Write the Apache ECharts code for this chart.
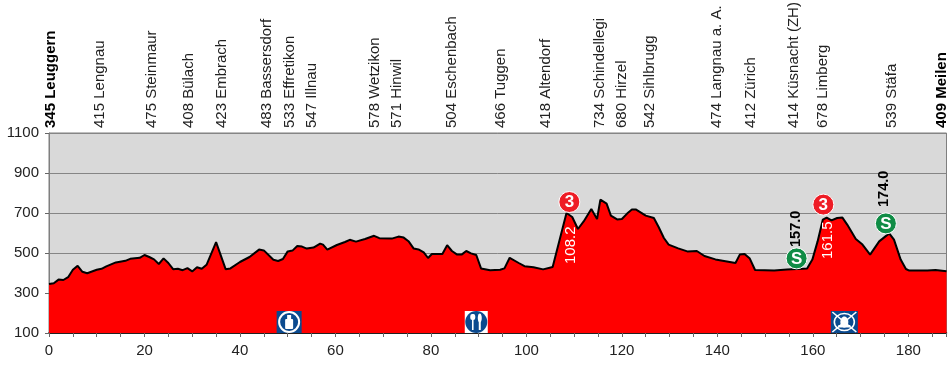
<!DOCTYPE html>
<html><head><meta charset="utf-8">
<style>html,body{margin:0;padding:0;background:#fff}#c{width:950px;height:366px}</style>
<script src="https://cdn.jsdelivr.net/npm/echarts@6/dist/echarts.min.js"></script>
</head><body><div id="c"></div>
<script>
const profileKm = [0,1,2,3,4,5,6,7,8,10,11,12,14,16,17,19,20,21,22,23,24,25,26,27,28,29,30,31,32,33,35,37,38,40,42,44,45,47,48,49,50,51,52,53,54,55.4,56.8,57.4,58.3,60.3,62,63,64.3,66.2,68.1,69.2,71.8,73.2,74.3,75.3,76.4,77.4,78.5,79.4,80.2,82.4,83.4,84.4,85.5,86.5,87.4,88.4,89.5,90.5,92.4,94.5,95.4,96.5,98.4,99.6,101.5,103.5,105.5,108.4,109.6,110.8,112,113.6,114.8,115.5,116.8,117.7,119,120,121.1,122.1,122.9,125,126.7,127.7,128.8,129.8,131.8,133.7,135.7,137.3,139.6,143.8,144.7,145.7,146.8,147.9,151.9,154.6,158.8,159.9,161,162.1,162.9,163.9,165.1,166.2,167.2,169,170.4,172,173.9,176,177,178.4,179.5,180.2,184,185.7,188];
const profileAlt = [345,349,367,365,379,416,436,406,399,416,421,433,453,461,471,476,490,480,468,445,473,450,419,421,414,424,408,429,421,441,554,419,423,455,480,517,513,466,460,470,508,512,535,532,522,527,547,542,517,540,555,566,557,570,586,574,572,582,577,559,522,518,503,475,495,495,539,510,492,493,510,498,490,423,414,416,423,476,450,434,429,418,430,700,680,620,658,720,670,767,747,687,668,670,697,717,718,687,675,630,575,542,523,508,510,485,468,450,492,495,472,415,413,417,422,467,558,667,677,663,675,677,642,570,542,492,558,598,567,467,420,412,413,415,409];

const placeNames = ["Leuggern","Lengnau","Steinmaur","Bülach","Embrach","Bassersdorf","Effretikon","Illnau","Wetzikon","Hinwil","Eschenbach","Tuggen","Altendorf","Schindellegi","Hirzel","Sihlbrugg","Langnau a. A.","Zürich","Küsnacht (ZH)","Limberg","Stäfa","Meilen"];
const placeAlt = [345,415,475,408,423,483,533,547,578,571,504,466,418,734,680,542,474,412,414,678,539,409];
const placeKm = [0.3,10.6,21.5,29.4,36.2,45.6,50.4,55,68.2,72.8,84.3,94.6,104,115.3,120,125.9,140,147,156,162,176.6,187];
const placeBold = [true,false,false,false,false,false,false,false,false,false,false,false,false,false,false,false,false,false,false,false,false,true];
const placeAnchorAlt = 1125;

const climbKm = [109,162.2];
const climbAlt = [755,742];
const climbCat = ["3","3"];
const sprintKm = [156.6,175.3];
const sprintAlt = [473,648];
const sprintMark = ["S","S"];

const whiteKm = [109.4,163.2];
const whiteAlt = [445,470];
const whiteText = ["108.2","161.5"];
const blackKm = [156.4,175];
const blackAlt = [530,730];
const blackText = ["157.0","174.0"];

const feedKm = [50.3,89.5,166.6];
const feedAlt = [100,100,100];
const feedKind = ["bottle","fork","bell"];

const xTicks = [0,20,40,60,80,100,120,140,160,180];
const yTicks = [100,300,500,700,900,1100];

const FONT = '"Liberation Sans",Arial,sans-serif';
const BLUE = '#0b4a8f';

function rotatedText(api, km, alt, text, color, bold, size) {
  const p = api.coord([km, alt]);
  return {type:'text', x:p[0], y:p[1], rotation:Math.PI/2,
    style:{text:text, x:0, y:0, align:'left', verticalAlign:'middle', fill:color,
      fontFamily:FONT, fontSize:size||15, fontWeight:bold?'bold':'normal'}};
}
function badge(api, km, alt, text, color) {
  const p = api.coord([km, alt]);
  return {type:'group', x:p[0], y:p[1], children:[
    {type:'circle', shape:{cx:0,cy:0,r:10.5}, style:{fill:color, stroke:'#fff', lineWidth:1}},
    {type:'text', style:{text:text, x:0, y:0.5, align:'center', verticalAlign:'middle', fill:'#fff',
      fontFamily:FONT, fontSize:17, fontWeight:'bold'}}
  ]};
}
function feedIcon(api, km, alt, kind) {
  const p = api.coord([km, alt]);
  let ch;
  if (kind === 'bottle') {
    ch = [
      {type:'rect', shape:{x:-12.5,y:-22,width:25,height:22}, style:{fill:BLUE}},
      {type:'circle', shape:{cx:0,cy:-11,r:10}, style:{fill:BLUE, stroke:'#fff', lineWidth:2}},
      {type:'rect', shape:{x:-4,y:-14,width:8,height:10,r:1}, style:{fill:'#fff'}},
      {type:'rect', shape:{x:-2,y:-18,width:4,height:5}, style:{fill:'#fff'}}
    ];
  } else if (kind === 'fork') {
    ch = [
      {type:'rect', shape:{x:-11.5,y:-22,width:23,height:22}, style:{fill:'#fff'}},
      {type:'circle', shape:{cx:0,cy:-11,r:11}, style:{fill:BLUE}},
      {type:'line', shape:{x1:-3.5,y1:-19,x2:-3.5,y2:-3}, style:{stroke:'#fff', lineWidth:1.6}},
      {type:'rect', shape:{x:-6,y:-19,width:5,height:6,r:2}, style:{fill:'#fff'}},
      {type:'line', shape:{x1:3.5,y1:-19,x2:3.5,y2:-3}, style:{stroke:'#fff', lineWidth:2}},
      {type:'ellipse', shape:{cx:3.5,cy:-15,rx:2,ry:4.5}, style:{fill:'#fff'}}
    ];
  } else {
    ch = [
      {type:'rect', shape:{x:-13.5,y:-22,width:27,height:22}, style:{fill:BLUE}},
      {type:'ellipse', shape:{cx:0,cy:-11,rx:10,ry:8.5}, style:{fill:BLUE, stroke:'#fff', lineWidth:1.6}},
      {type:'line', shape:{x1:-12,y1:-21,x2:12,y2:-1}, style:{stroke:'#fff', lineWidth:1.6}},
      {type:'line', shape:{x1:12,y1:-21,x2:-12,y2:-1}, style:{stroke:'#fff', lineWidth:1.6}},
      {type:'ellipse', shape:{cx:0,cy:-11,rx:4,ry:5.5}, style:{fill:'#fff'}},
      {type:'rect', shape:{x:-6,y:-8,width:12,height:2.5}, style:{fill:'#fff'}}
    ];
  }
  return {type:'group', x:p[0], y:p[1], children:ch};
}

function zipRows() { const a = arguments; return a[0].map((_, i) => Array.from(a, c => c[i])); }

const chart = echarts.init(document.getElementById('c'), null, {renderer:'canvas'});
chart.setOption({
  animation:false,
  backgroundColor:'#fff',
  grid:{left:49, right:3.5, top:133, bottom:33, show:true, backgroundColor:'#d9d9d9', borderColor:'#7f7f7f', borderWidth:1},
  xAxis:{type:'value', min:0, max:188, interval:5,
    axisLine:{show:true, onZero:false, lineStyle:{color:'#000', width:1.5}},
    axisTick:{show:true, length:4, lineStyle:{color:'#666'}},
    splitLine:{show:false},
    axisLabel:{margin:10, color:'#222', fontFamily:FONT, fontSize:15,
      formatter:v => xTicks.indexOf(v) >= 0 ? String(v) : ''}
  },
  yAxis:{type:'value', min:100, max:1100,
    axisLine:{show:true, lineStyle:{color:'#7f7f7f'}},
    axisTick:{show:true, length:4, customValues:yTicks, lineStyle:{color:'#666'}},
    splitLine:{show:true, lineStyle:{color:'#858585', width:1}},
    axisLabel:{margin:10, color:'#222', fontFamily:FONT, fontSize:15, customValues:yTicks, formatter:v => String(v)}
  },
  series:[
    {type:'line', data:zipRows(profileKm, profileAlt), symbol:'none', smooth:false, z:3, clip:true,
      lineStyle:{color:'#000', width:2}, areaStyle:{color:'#ff0000', opacity:1, origin:'start'}},
    {type:'custom', z:5, clip:false, coordinateSystem:'cartesian2d',
      data:zipRows(placeKm, placeNames, placeAlt, placeBold),
      encode:{x:0},
      renderItem:(params, api) => {
        const i = params.dataIndex;
        return rotatedText(api, placeKm[i], placeAnchorAlt, placeAlt[i]+' '+placeNames[i], placeBold[i]?'#000':'#222', placeBold[i]);
      }},
    {type:'custom', z:6, clip:false, data:zipRows(feedKm, feedAlt), encode:{x:0,y:1},
      renderItem:(params, api) => { const i=params.dataIndex; return feedIcon(api, feedKm[i], feedAlt[i], feedKind[i]); }},
    {type:'custom', z:6, clip:false, data:zipRows(climbKm, climbAlt), encode:{x:0,y:1},
      renderItem:(params, api) => { const i=params.dataIndex; return badge(api, climbKm[i], climbAlt[i], climbCat[i], '#ee1c25'); }},
    {type:'custom', z:6, clip:false, data:zipRows(sprintKm, sprintAlt), encode:{x:0,y:1},
      renderItem:(params, api) => { const i=params.dataIndex; return badge(api, sprintKm[i], sprintAlt[i], sprintMark[i], '#0f8c45'); }},
    {type:'custom', z:6, clip:false, data:zipRows(whiteKm, whiteAlt), encode:{x:0,y:1},
      renderItem:(params, api) => { const i=params.dataIndex; return rotatedText(api, whiteKm[i], whiteAlt[i], whiteText[i], '#fff', false); }},
    {type:'custom', z:6, clip:false, data:zipRows(blackKm, blackAlt), encode:{x:0,y:1},
      renderItem:(params, api) => { const i=params.dataIndex; return rotatedText(api, blackKm[i], blackAlt[i], blackText[i], '#000', true, 14.5); }}
  ]
});
</script></body></html>
